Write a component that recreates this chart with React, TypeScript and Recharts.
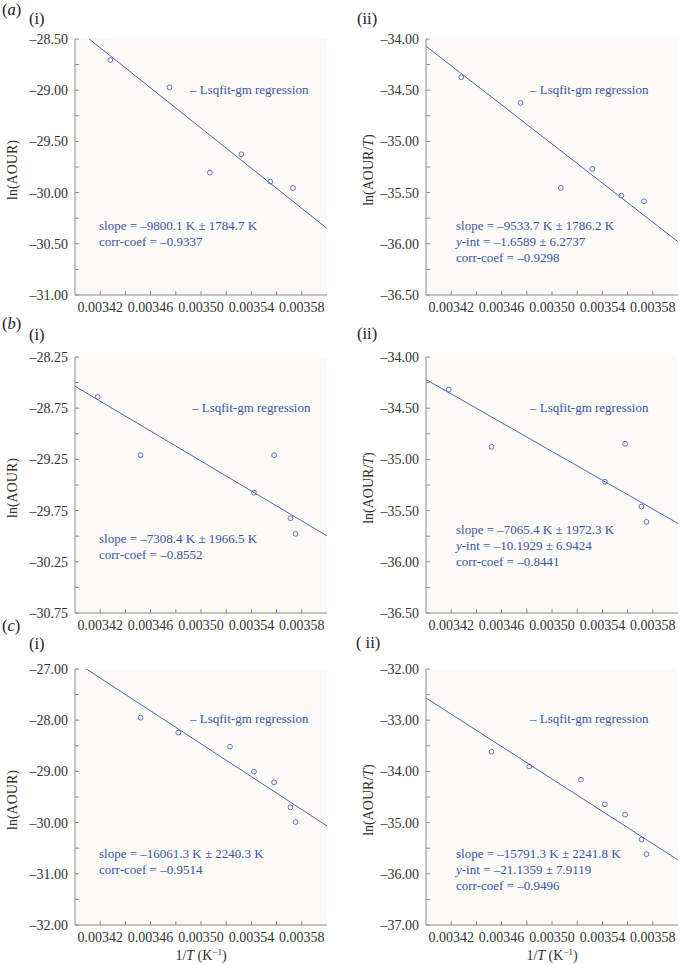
import React from 'react';
import { ScatterChart, Scatter, XAxis, YAxis, CartesianGrid } from 'recharts';

// ---------- shared x axis (1/T, K^-1) ----------
const xMajorTicks = [0.00342, 0.00346, 0.0035, 0.00354, 0.00358];
const xMinorTicks = [0.00344, 0.00348, 0.00352, 0.00356];
const xDomain: [number, number] = [0.0034, 0.0036];
const fitX = [0.0034, 0.0036];

// ---------- (a) ----------
const xA = [0.003428, 0.003475, 0.003507, 0.003532, 0.003555, 0.003573];
const yAi = [-28.705, -28.972, -29.805, -29.626, -29.893, -29.955];
const yAii = [-34.373, -34.624, -35.454, -35.268, -35.529, -35.585];
const fitAi = [-28.39, -30.35];
const fitAii = [-34.07, -35.98];
const yMajorAi = [-31, -30.5, -30, -29.5, -29, -28.5];
const yMinorAi = [-30.75, -30.25, -29.75, -29.25, -28.75];
const yMajorAii = [-36.5, -36, -35.5, -35, -34.5, -34];
const yMinorAii = [-36.25, -35.75, -35.25, -34.75, -34.25];

// ---------- (b) ----------
const xB = [0.003418, 0.003452, 0.003542, 0.003558, 0.003571, 0.003575];
const yBi = [-28.64, -29.208, -29.575, -29.208, -29.825, -29.977];
const yBii = [-34.318, -34.877, -35.218, -34.847, -35.461, -35.61];
const fitBi = [-28.535, -29.997];
const fitBii = [-34.22, -35.625];
const yMajorBi = [-30.75, -30.25, -29.75, -29.25, -28.75, -28.25];
const yMinorBi = [-30.5, -30, -29.5, -29, -28.5];
const yMajorBii = [-36.5, -36, -35.5, -35, -34.5, -34];
const yMinorBii = [-36.25, -35.75, -35.25, -34.75, -34.25];

// ---------- (c) ----------
const xC = [0.003452, 0.003482, 0.003523, 0.003542, 0.003558, 0.003571, 0.003575];
const yCi = [-27.951, -28.243, -28.517, -29.005, -29.214, -29.702, -29.988];
const yCii = [-33.617, -33.903, -34.162, -34.643, -34.844, -35.331, -35.617];
const fitCi = [-26.855, -30.066];
const fitCii = [-32.565, -35.73];
const yMajorCi = [-32, -31, -30, -29, -28, -27];
const yMinorCi = [-31.5, -30.5, -29.5, -28.5, -27.5];
const yMajorCii = [-37, -36, -35, -34, -33, -32];
const yMinorCii = [-36.5, -35.5, -34.5, -33.5, -32.5];

// ---------- texts ----------
const legendText = '– Lsqfit-gm regression';
const statsAi = ['slope = –9800.1 K ± 1784.7 K', 'corr-coef = –0.9337'];
const statsAii = ['slope = –9533.7 K ± 1786.2 K', '-int = –1.6589 ± 6.2737', 'corr-coef = –0.9298'];
const statsBi = ['slope = –7308.4 K ± 1966.5 K', 'corr-coef = –0.8552'];
const statsBii = ['slope = –7065.4 K ± 1972.3 K', '-int = –10.1929 ± 6.9424', 'corr-coef = –0.8441'];
const statsCi = ['slope = –16061.3 K ± 2240.3 K', 'corr-coef = –0.9514'];
const statsCii = ['slope = –15791.3 K ± 2241.8 K', '-int = –21.1359 ± 7.9119', 'corr-coef = –0.9496'];

const FONT = '"Liberation Serif", "Times New Roman", serif';
const FRAME = '#8c8c8c';
const BG = '#fbfaf7';
const LINE_BLUE = '#5266ac';
const TEXT_BLUE = '#3d54a0';
const TICK_TEXT = '#333333';

const near = (arr: number[], v: number, eps: number) => arr.some((m) => Math.abs(m - v) < eps);
const fmtNeg = (s: string) => s.replace('-', '–');

type PanelProps = {
  left: number;
  top: number;
  width: number;
  marginLeft: number;
  marginRight: number;
  xs: number[];
  ys: number[];
  fit: number[];
  yMajor: number[];
  yMinor: number[];
};

function Panel({ left, top, width, marginLeft, marginRight, xs, ys, fit, yMajor, yMinor }: PanelProps) {
  const pts = xs.map((x, i) => ({ x, y: ys[i] }));
  const fitData = fitX.map((x, i) => ({ x, y: fit[i] }));
  const xt = [...xMajorTicks, ...xMinorTicks].sort((a, b) => a - b);
  const yt = [...yMajor, ...yMinor].sort((a, b) => a - b);
  const yDomain: [number, number] = [Math.min(...yMajor), Math.max(...yMajor)];
  const tickStyle = { fill: TICK_TEXT, fontSize: 14, fontFamily: FONT };
  return (
    <div style={{ position: 'absolute', left, top }}>
      <ScatterChart
        width={width}
        height={300}
        margin={{ top: 10, right: marginRight, bottom: 4, left: marginLeft }}
      >
        <CartesianGrid horizontal={false} vertical={false} fill={BG} stroke="none" />
        <XAxis
          type="number"
          dataKey="x"
          domain={xDomain}
          allowDataOverflow
          ticks={xt}
          interval={0}
          tickSize={-4}
          tickMargin={11}
          height={30}
          axisLine={{ stroke: FRAME }}
          tickLine={{ stroke: FRAME }}
          tick={tickStyle}
          tickFormatter={(v: number) => (near(xMajorTicks, v, 1e-9) ? v.toFixed(5) : '')}
        />
        <XAxis
          xAxisId="t"
          orientation="top"
          type="number"
          domain={xDomain}
          allowDataOverflow
          ticks={xt}
          interval={0}
          tickSize={-4}
          height={0}
          axisLine={{ stroke: FRAME }}
          tickLine={{ stroke: FRAME }}
          tickFormatter={() => ''}
        />
        <YAxis
          type="number"
          dataKey="y"
          domain={yDomain}
          allowDataOverflow
          ticks={yt}
          interval={0}
          tickSize={-4}
          tickMargin={11}
          width={60}
          axisLine={{ stroke: FRAME }}
          tickLine={{ stroke: FRAME }}
          tick={tickStyle}
          tickFormatter={(v: number) => (near(yMajor, v, 1e-6) ? fmtNeg(v.toFixed(2)) : '')}
        />
        <YAxis
          yAxisId="r"
          orientation="right"
          type="number"
          domain={yDomain}
          allowDataOverflow
          ticks={yt}
          interval={0}
          tickSize={-4}
          width={0}
          axisLine={{ stroke: FRAME }}
          tickLine={{ stroke: FRAME }}
          tickFormatter={() => ''}
        />
        <Scatter
          data={fitData}
          line={{ stroke: LINE_BLUE, strokeWidth: 1 }}
          shape={() => <g />}
          isAnimationActive={false}
        />
        <Scatter
          data={pts}
          shape={(p: any) => (
            <circle cx={p.cx} cy={p.cy} r={2.4} fill="none" stroke={LINE_BLUE} strokeWidth={0.9} />
          )}
          isAnimationActive={false}
        />
      </ScatterChart>
    </div>
  );
}

const ROW_TOPS = [39, 357, 669];
const LEFT_PLOT_X = 75;
const RIGHT_PLOT_X = 426;

function StatLines({ x, y, lines }: { x: number; y: number; lines: string[] }) {
  return (
    <>
      {lines.map((s, i) =>
        s.startsWith('-int') ? (
          <text key={i} x={x} y={y + i * 16} fill={TEXT_BLUE} fontSize={13}>
            <tspan fontStyle="italic">y</tspan>
            {s}
          </text>
        ) : (
          <text key={i} x={x} y={y + i * 16} fill={TEXT_BLUE} fontSize={13}>
            {s}
          </text>
        )
      )}
    </>
  );
}

export default function App() {
  const [ra, rb, rc] = ROW_TOPS;
  return (
    <div style={{ position: 'absolute', left: 0, top: 0, width: 681, height: 965, background: '#fff' }}>
      <Panel left={0} top={ra - 10} width={340} marginLeft={15} marginRight={13} xs={xA} ys={yAi} fit={fitAi} yMajor={yMajorAi} yMinor={yMinorAi} />
      <Panel left={340} top={ra - 10} width={341} marginLeft={26} marginRight={3} xs={xA} ys={yAii} fit={fitAii} yMajor={yMajorAii} yMinor={yMinorAii} />
      <Panel left={0} top={rb - 10} width={340} marginLeft={15} marginRight={13} xs={xB} ys={yBi} fit={fitBi} yMajor={yMajorBi} yMinor={yMinorBi} />
      <Panel left={340} top={rb - 10} width={341} marginLeft={26} marginRight={3} xs={xB} ys={yBii} fit={fitBii} yMajor={yMajorBii} yMinor={yMinorBii} />
      <Panel left={0} top={rc - 10} width={340} marginLeft={15} marginRight={13} xs={xC} ys={yCi} fit={fitCi} yMajor={yMajorCi} yMinor={yMinorCi} />
      <Panel left={340} top={rc - 10} width={341} marginLeft={26} marginRight={3} xs={xC} ys={yCii} fit={fitCii} yMajor={yMajorCii} yMinor={yMinorCii} />

      <svg
        width={681}
        height={965}
        style={{ position: 'absolute', left: 0, top: 0, pointerEvents: 'none' }}
        fontFamily={FONT}
      >
        {/* panel labels */}
        <g fill="#222" fontSize={16.5}>
          <text x={2} y={15}>(<tspan fontStyle="italic">a</tspan>)</text>
          <text x={29} y={24}>(i)</text>
          <text x={357} y={24}>(ii)</text>
          <text x={2} y={329}>(<tspan fontStyle="italic">b</tspan>)</text>
          <text x={29} y={340}>(i)</text>
          <text x={357} y={339}>(ii)</text>
          <text x={2} y={631}>(<tspan fontStyle="italic">c</tspan>)</text>
          <text x={29} y={649}>(i)</text>
          <text x={356} y={648}>( ii)</text>
        </g>

        {/* y axis titles */}
        <g fill="#333" fontSize={14} textAnchor="middle" dominantBaseline="central">
          {ROW_TOPS.map((t, i) => (
            <React.Fragment key={i}>
              <text x={12} y={t + 131} transform={`rotate(-90 12 ${t + 131})`}>ln(AOUR)</text>
              <text x={368} y={t + 131} transform={`rotate(-90 368 ${t + 131})`}>
                ln(AOUR/<tspan fontStyle="italic">T</tspan>)
              </text>
            </React.Fragment>
          ))}
        </g>

        {/* x axis titles */}
        <g fill="#333" fontSize={14} textAnchor="middle">
          <text x={201} y={960}>
            1/<tspan fontStyle="italic">T</tspan> (K<tspan dy={-5} fontSize={9}>−1</tspan><tspan dy={5}>)</tspan>
          </text>
          <text x={552} y={960}>
            1/<tspan fontStyle="italic">T</tspan> (K<tspan dy={-5} fontSize={9}>−1</tspan><tspan dy={5}>)</tspan>
          </text>
        </g>

        {/* legends */}
        <g fill={TEXT_BLUE} fontSize={13}>
          <text x={LEFT_PLOT_X + 115} y={ra + 55}>{legendText}</text>
          <text x={RIGHT_PLOT_X + 104} y={ra + 55}>{legendText}</text>
          <text x={LEFT_PLOT_X + 117} y={rb + 55}>{legendText}</text>
          <text x={RIGHT_PLOT_X + 104} y={rb + 55}>{legendText}</text>
          <text x={LEFT_PLOT_X + 115} y={rc + 54}>{legendText}</text>
          <text x={RIGHT_PLOT_X + 104} y={rc + 54}>{legendText}</text>
        </g>

        {/* statistics */}
        <StatLines x={LEFT_PLOT_X + 24} y={ra + 191} lines={statsAi} />
        <StatLines x={RIGHT_PLOT_X + 30} y={ra + 191} lines={statsAii} />
        <StatLines x={LEFT_PLOT_X + 24} y={rb + 186} lines={statsBi} />
        <StatLines x={RIGHT_PLOT_X + 30} y={rb + 177} lines={statsBii} />
        <StatLines x={LEFT_PLOT_X + 24} y={rc + 189} lines={statsCi} />
        <StatLines x={RIGHT_PLOT_X + 30} y={rc + 189} lines={statsCii} />
      </svg>
    </div>
  );
}
